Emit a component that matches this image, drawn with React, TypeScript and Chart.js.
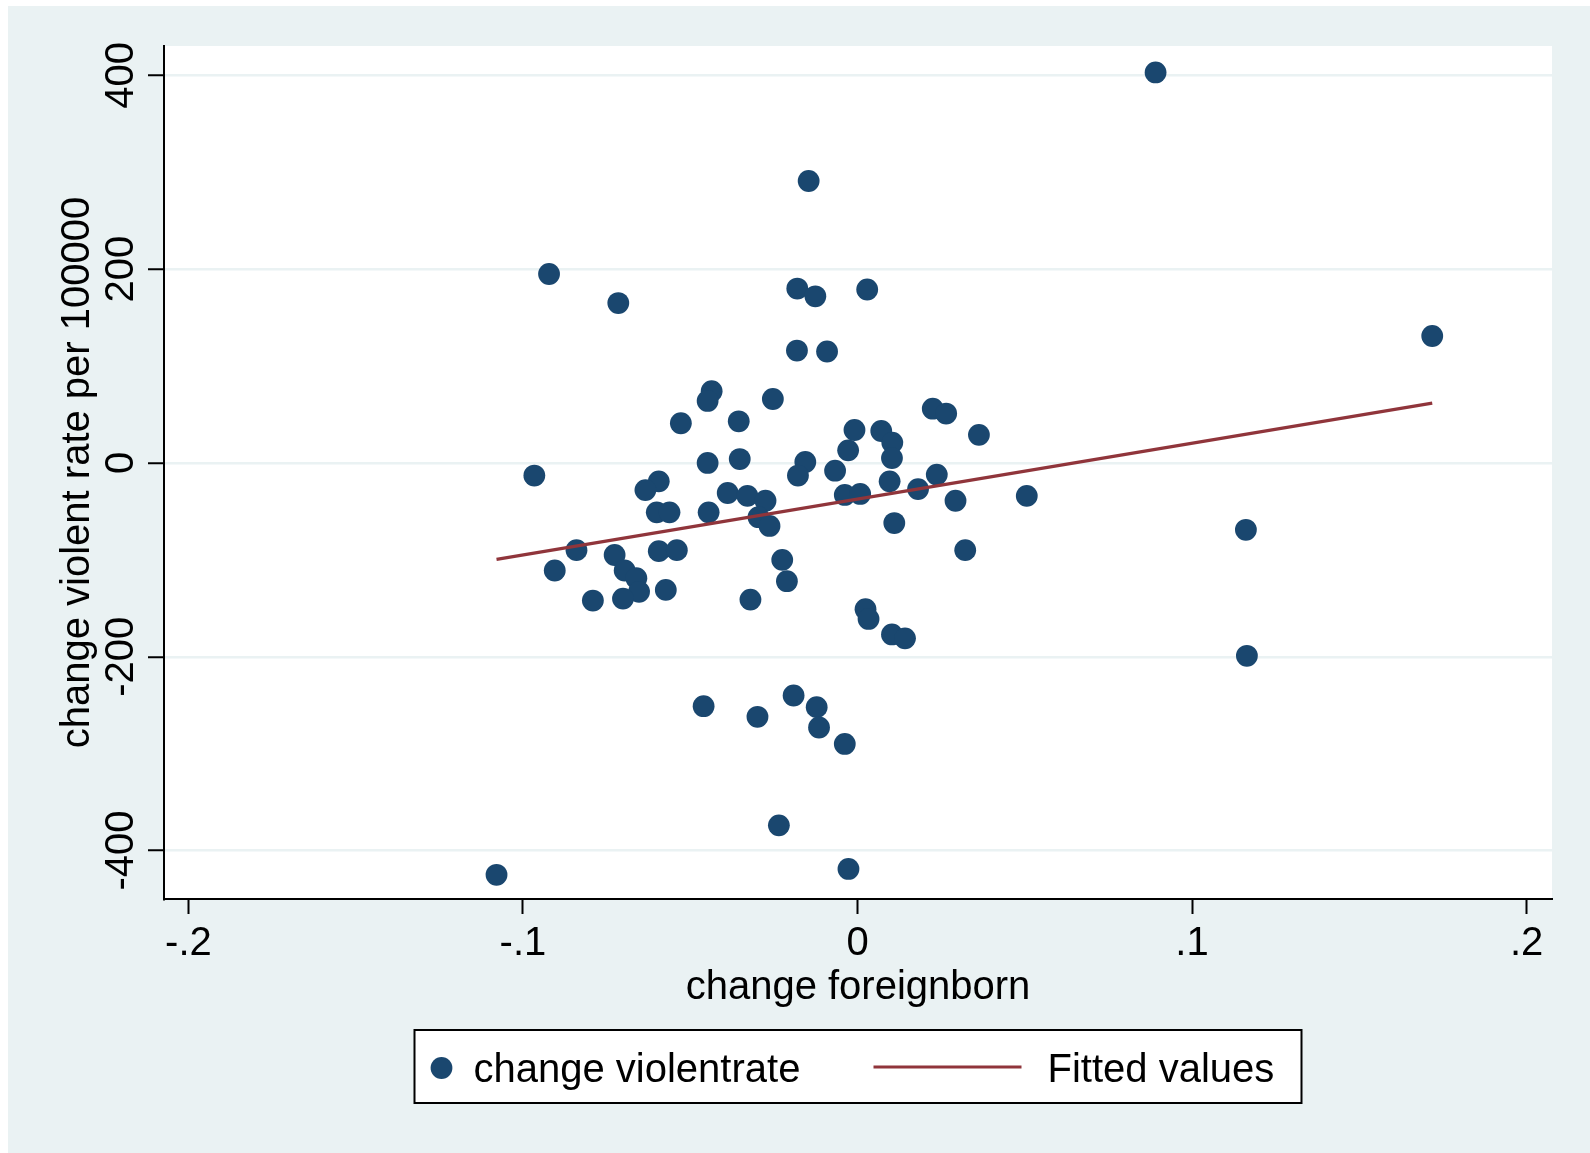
import React, { useEffect, useRef } from "react";
import { Chart, registerables } from "chart.js";

Chart.register(...registerables);

// Data
const foreignbornChange: number[] = [
  0.0891, -0.0146, -0.0922, -0.0715, -0.018, -0.0126, 0.0029, 0.1718, -0.0181, -0.0091,
  -0.0436, -0.0448, -0.0253, -0.0528, -0.0355, 0.0225, 0.0265, -0.0009, 0.0071, 0.0363,
  -0.0028, 0.0104, 0.0103, -0.0352, -0.0448, -0.0156, -0.0966, -0.0067, -0.0178, -0.0594,
  0.0096, 0.0237, -0.0634, -0.0388, -0.0329, -0.0275, -0.0038, 0.0008, 0.0181, 0.0293,
  0.0506, -0.06, -0.0562, -0.0445, -0.0296, -0.0263, 0.011, 0.1161, -0.084, -0.0594,
  -0.054, -0.0726, 0.0322, -0.0225, -0.0905, -0.0696, -0.0661, -0.0211, -0.0573, -0.0653,
  -0.0791, -0.0701, -0.032, 0.0024, 0.0033, 0.0103, 0.0142, 0.1164, -0.046, -0.0191,
  -0.0122, -0.0299, -0.0115, -0.0038, -0.0235, -0.0027, -0.1079,
];
const violentRateChange: number[] = [
  403, 291, 195, 165, 180, 172, 179, 131, 116, 115,
  74, 64, 66, 41, 43, 56, 51, 34, 33, 29,
  13, 21, 5, 4, 0, 1, -13, -8, -13, -19,
  -19, -12, -28, -31, -34, -39, -33, -32, -27, -39,
  -34, -51, -51, -51, -56, -65, -62, -69, -90, -91,
  -90, -95, -90, -100, -111, -111, -119, -122, -131, -133,
  -142, -140, -141, -151, -161, -177, -181, -199, -251, -240,
  -252, -262, -273, -290, -374, -419, -425,
];
const fittedX: number[] = [-0.1079, 0.1718];
const fittedY: number[] = [-99.5, 61.8];

const xTickValues: number[] = [-0.2, -0.1, 0, 0.1, 0.2];
const xTickLabels: string[] = ["-.2", "-.1", "0", ".1", ".2"];
const yTickValues: number[] = [-400, -200, 0, 200, 400];
const yTickLabels: string[] = ["-400", "-200", "0", "200", "400"];

const xTitle = "change foreignborn";
const yTitle = "change violent rate per 100000";
const scatterLabel = "change violentrate";
const fitLabel = "Fitted values";

const BG = "#eaf2f3";
const NAVY = "#1a476f";
const MAROON = "#90353b";
const FONT = '"Liberation Sans", Arial, Helvetica, sans-serif';

const W = 1590;
const H = 1153;
const MARKER_R = 10.9;
const LINE_W = 3.2;

const decorPlugin = {
  id: "stataDecor",
  beforeDraw(chart: any) {
    const { ctx, chartArea } = chart;
    ctx.save();
    ctx.fillStyle = "#ffffff";
    ctx.fillRect(0, 0, W, H);
    ctx.fillStyle = BG;
    ctx.fillRect(8, 6, W - 8, H - 6);
    ctx.fillStyle = "#ffffff";
    ctx.fillRect(chartArea.left, chartArea.top, chartArea.right - chartArea.left, chartArea.bottom - chartArea.top);
    ctx.restore();
  },
  afterDraw(chart: any) {
    const { ctx, chartArea, scales } = chart;
    const xs = scales.x;
    const ys = scales.y;
    ctx.save();
    ctx.fillStyle = "#000";
    // x tick labels
    ctx.font = `40px ${FONT}`;
    ctx.textAlign = "center";
    ctx.textBaseline = "alphabetic";
    xTickValues.forEach((v, i) => {
      ctx.fillText(xTickLabels[i], xs.getPixelForValue(v), chartArea.bottom + 56);
    });
    // y tick labels (rotated)
    yTickValues.forEach((v, i) => {
      ctx.save();
      ctx.translate(chartArea.left - 31, ys.getPixelForValue(v));
      ctx.rotate(-Math.PI / 2);
      ctx.textAlign = "center";
      ctx.textBaseline = "alphabetic";
      ctx.fillText(yTickLabels[i], 0, 0);
      ctx.restore();
    });
    // axis titles
    ctx.font = `40px ${FONT}`;
    const cx = (chartArea.left + chartArea.right) / 2;
    const cy = (chartArea.top + chartArea.bottom) / 2;
    ctx.textAlign = "center";
    ctx.fillText(xTitle, cx, chartArea.bottom + 100);
    ctx.save();
    ctx.translate(chartArea.left - 75, cy);
    ctx.rotate(-Math.PI / 2);
    ctx.fillText(yTitle, 0, 0);
    ctx.restore();

    // legend
    const boxW = 887;
    const boxH = 73;
    const bx = cx - boxW / 2;
    const by = chartArea.bottom + 131;
    ctx.fillStyle = "#ffffff";
    ctx.fillRect(bx, by, boxW, boxH);
    ctx.strokeStyle = "#000";
    ctx.lineWidth = 2;
    ctx.strokeRect(bx, by, boxW, boxH);
    const ds = chart.data.datasets;
    // scatter marker
    ctx.fillStyle = ds[1].backgroundColor;
    ctx.beginPath();
    ctx.arc(bx + 27, by + 38, MARKER_R, 0, Math.PI * 2);
    ctx.fill();
    ctx.fillStyle = "#000";
    ctx.textAlign = "left";
    ctx.fillText(ds[1].label, bx + 59, by + 52);
    // line marker
    ctx.strokeStyle = ds[0].borderColor;
    ctx.lineWidth = LINE_W;
    ctx.beginPath();
    ctx.moveTo(bx + 459, by + 37);
    ctx.lineTo(bx + 607, by + 37);
    ctx.stroke();
    ctx.fillStyle = "#000";
    ctx.fillText(ds[0].label, bx + 633, by + 52);
    ctx.restore();
  },
};

export default function App() {
  const ref = useRef<HTMLCanvasElement | null>(null);

  useEffect(() => {
    if (!ref.current) return;
    const scatterData = foreignbornChange.map((x, i) => ({ x, y: violentRateChange[i] }));
    const fitData = fittedX.map((x, i) => ({ x, y: fittedY[i] }));

    const chart = new Chart(ref.current, {
      type: "scatter",
      data: {
        datasets: [
          {
            type: "line",
            label: fitLabel,
            data: fitData,
            borderColor: MAROON,
            borderWidth: LINE_W,
            pointRadius: 0,
            fill: false,
            showLine: true,
            order: 0,
          } as any,
          {
            type: "scatter",
            label: scatterLabel,
            data: scatterData,
            backgroundColor: NAVY,
            borderWidth: 0,
            pointRadius: MARKER_R,
            pointHoverRadius: MARKER_R,
            order: 1,
          } as any,
        ],
      },
      options: {
        responsive: false,
        animation: false,
        devicePixelRatio: 1,
        layout: { padding: { left: 144, right: 38, top: 46, bottom: 234 } },
        plugins: {
          legend: { display: false },
          title: { display: false },
          tooltip: { enabled: false },
        },
        scales: {
          x: {
            type: "linear",
            min: -0.2073,
            max: 0.2076,
            afterBuildTicks: (s: any) => {
              s.ticks = xTickValues.map((v) => ({ value: v }));
            },
            afterFit: (s: any) => {
              s.height = 20;
            },
            grid: {
              drawOnChartArea: false,
              drawTicks: true,
              tickLength: 15,
              tickColor: "#000",
              tickWidth: 2,
            },
            border: { display: true, color: "#000", width: 2 },
            ticks: { display: false },
          },
          y: {
            type: "linear",
            min: -450,
            max: 430.3,
            afterBuildTicks: (s: any) => {
              s.ticks = yTickValues.map((v) => ({ value: v }));
            },
            afterFit: (s: any) => {
              s.width = 20;
            },
            grid: {
              drawOnChartArea: true,
              color: BG,
              lineWidth: 2.5,
              drawTicks: true,
              tickLength: 16,
              tickColor: "#000",
              tickWidth: 2,
            },
            border: { display: true, color: "#000", width: 2 },
            ticks: { display: false },
          },
        },
      },
      plugins: [decorPlugin],
    });
    return () => chart.destroy();
  }, []);

  return (
    <div style={{ position: "absolute", left: 0, top: 0, width: W, height: H }}>
      <canvas ref={ref} width={W} height={H} style={{ display: "block", width: W, height: H }} />
    </div>
  );
}
